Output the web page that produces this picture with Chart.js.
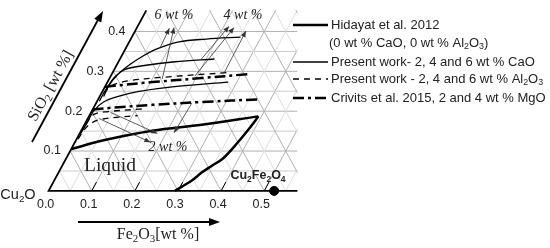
<!DOCTYPE html>
<html>
<head>
<meta charset="utf-8">
<script src="https://cdn.jsdelivr.net/npm/chart.js@4.4.1/dist/chart.umd.min.js"></script>
<style>
html, body { margin: 0; padding: 0; background: #fff; }
#wrap { width: 550px; height: 248px; }
</style>
</head>
<body>
<div id="wrap"><canvas id="myChart"></canvas></div>
<script>
// Fe2O3 / SiO2 mass fractions
var hidayatUpperFe = [0.000, 0.064, 0.165, 0.272, 0.393];
var hidayatUpperSi = [0.105, 0.127, 0.151, 0.166, 0.187];
var hidayatLowerFe = [0.393, 0.388, 0.378, 0.364, 0.346, 0.332, 0.319, 0.293];
var hidayatLowerSi = [0.187, 0.161, 0.122, 0.082, 0.062, 0.046, 0.026, 0.000];

var cao6Fe = [0.009, 0.008, 0.015, 0.030, 0.049, 0.074, 0.115, 0.175, 0.252];
var cao6Si = [0.237, 0.266, 0.293, 0.317, 0.338, 0.357, 0.374, 0.381, 0.386];
var cao4Fe = [0.005, 0.006, 0.011, 0.025, 0.061, 0.131, 0.219];
var cao4Si = [0.225, 0.261, 0.288, 0.305, 0.314, 0.324, 0.331];
var cao2Fe = [0.002, 0.004, 0.004, 0.016, 0.043, 0.082, 0.156, 0.280];
var cao2Si = [0.142, 0.173, 0.201, 0.223, 0.237, 0.249, 0.261, 0.273];

var al6Fe = [0.005, 0.014, 0.046, 0.121, 0.270];
var al6Si = [0.245, 0.264, 0.276, 0.285, 0.297];
var al4Fe = [0.002, 0.009, 0.039, 0.094, 0.120];
var al4Si = [0.168, 0.192, 0.199, 0.204, 0.206];
var al2Fe = [0.003, 0.009, 0.027, 0.069, 0.112];
var al2Si = [0.130, 0.163, 0.178, 0.185, 0.189];

var mgo4Fe = [0.000, 0.040, 0.104, 0.213, 0.315];
var mgo4Si = [0.261, 0.266, 0.273, 0.283, 0.293];
var mgo2Fe = [0.000, 0.046, 0.133, 0.243, 0.376];
var mgo2Si = [0.204, 0.209, 0.216, 0.223, 0.230];

var spinelFe = [0.523];
var spinelSi = [0.000];

var feTicks = [0.0, 0.1, 0.2, 0.3, 0.4, 0.5];
var siTicks = [0.1, 0.2, 0.3, 0.4];

// label arrows: [Fe from, Si from, Fe to, Si to]
var arrows6 = [[0.079, 0.360, 0.076, 0.408], [0.123, 0.281, 0.086, 0.410]];
var arrows4 = [[0.189, 0.331, 0.212, 0.413], [0.195, 0.288, 0.225, 0.410], [0.259, 0.295, 0.257, 0.401]];
var arrows2 = [[0.025, 0.182, 0.175, 0.122], [0.045, 0.197, 0.180, 0.144], [0.222, 0.221, 0.218, 0.146]];

var gridTop = 0.453;   // SiO2 where the grid stops
var gridRight = 0.577; // cartesian x where the grid stops

// ternary -> cartesian (x = Fe2O3 + SiO2/2, y = SiO2)
function pts(fe, si) {
    var out = [];
    for (let i = 0; i < fe.length; i++) out.push({ x: fe[i] + si[i] / 2, y: si[i] });
    return out;
}

function curve(fe, si, width, dash) {
    return {
        data: pts(fe, si),
        showLine: true,
        borderColor: '#000',
        backgroundColor: '#000',
        borderWidth: width,
        borderDash: dash,
        pointRadius: 0,
        tension: 0.35,
        fill: false
    };
}

function xy(chart, X, Y) {
    return { x: chart.scales.x.getPixelForValue(X), y: chart.scales.y.getPixelForValue(Y) };
}
function tp(chart, f, s) {
    return xy(chart, f + s / 2, s);
}

// text with "_x" subscripts
function richText(c, text, x, y, size, family, weight, style, align) {
    var parts = [];
    for (let i = 0; i < text.length; i++) {
        if (text[i] == '_') { parts.push([text[i + 1], true]); i++; }
        else {
            if (parts.length && !parts[parts.length - 1][1]) parts[parts.length - 1][0] += text[i];
            else parts.push([text[i], false]);
        }
    }
    var big = style + ' ' + weight + ' ' + size + 'px ' + family;
    var small = style + ' ' + weight + ' ' + (size * 0.68) + 'px ' + family;
    var w = 0;
    parts.forEach(function (p) { c.font = p[1] ? small : big; w += c.measureText(p[0]).width; });
    var cx = align == 'center' ? x - w / 2 : (align == 'right' ? x - w : x);
    c.textAlign = 'left';
    c.textBaseline = 'middle';
    parts.forEach(function (p) {
        c.font = p[1] ? small : big;
        c.fillText(p[0], cx, p[1] ? y + size * 0.28 : y);
        cx += c.measureText(p[0]).width;
    });
}

function arrowHead(c, x1, y1, x2, y2, len, half) {
    var a = Math.atan2(y2 - y1, x2 - x1);
    c.beginPath();
    c.moveTo(x2, y2);
    c.lineTo(x2 - len * Math.cos(a) + half * Math.sin(a), y2 - len * Math.sin(a) - half * Math.cos(a));
    c.lineTo(x2 - len * Math.cos(a) - half * Math.sin(a), y2 - len * Math.sin(a) + half * Math.cos(a));
    c.closePath();
    c.fill();
}

var ternaryPlugin = {
    id: 'ternary',
    beforeDatasetsDraw: function (chart) {
        var c = chart.ctx;
        c.save();
        // grid, clipped to the section
        var p0 = xy(chart, 0, 0), p1 = xy(chart, gridRight, 0), p2 = xy(chart, gridRight, gridTop), p3 = xy(chart, gridTop / 2, gridTop);
        c.beginPath();
        c.moveTo(p0.x, p0.y); c.lineTo(p1.x, p1.y); c.lineTo(p2.x, p2.y); c.lineTo(p3.x, p3.y);
        c.closePath();
        c.save();
        c.clip();
        c.lineWidth = 1;
        for (let k = 1; k <= 20; k++) {
            var v = k * 0.05;
            var major = (k % 2 == 0);
            // SiO2 = const
            if (k <= 8) {
                var a = tp(chart, 0, v), b = xy(chart, gridRight, v);
                c.strokeStyle = major ? '#b0b0b0' : '#cbcbcb';
                c.beginPath(); c.moveTo(a.x, a.y); c.lineTo(b.x, b.y); c.stroke();
            }
            c.strokeStyle = major ? '#b0b0b0' : '#dddddd';
            // Fe2O3 = const
            var a1 = tp(chart, v, 0), b1 = tp(chart, v, 1);
            c.beginPath(); c.moveTo(a1.x, a1.y); c.lineTo(b1.x, b1.y); c.stroke();
            // Cu2O = const
            var a2 = tp(chart, v, 0), b2 = tp(chart, v - 1, 1);
            c.beginPath(); c.moveTo(a2.x, a2.y); c.lineTo(b2.x, b2.y); c.stroke();
        }
        c.restore();

        // axes
        c.strokeStyle = '#000';
        c.lineWidth = 1.8;
        var o = tp(chart, 0, 0), e = xy(chart, gridRight, 0), t = tp(chart, 0, gridTop);
        c.beginPath(); c.moveTo(e.x, e.y); c.lineTo(o.x, o.y); c.lineTo(t.x, t.y); c.stroke();
        c.lineWidth = 1;
        feTicks.forEach(function (f) {
            if (f == 0) return;
            var q1 = tp(chart, f, 0), q2 = tp(chart, f, 0.022);
            c.beginPath(); c.moveTo(q1.x, q1.y); c.lineTo(q2.x, q2.y); c.stroke();
        });
        c.restore();
    },
    afterDatasetsDraw: function (chart) {
        var c = chart.ctx;
        c.save();
        c.fillStyle = '#222';
        var sans = '"Liberation Sans", Arial, sans-serif';
        var serif = '"Liberation Serif", "Times New Roman", serif';

        // tick labels
        feTicks.forEach(function (f) {
            var q = tp(chart, f, 0);
            c.font = '12.5px ' + sans;
            c.textAlign = 'center'; c.textBaseline = 'middle';
            c.fillText(f.toFixed(1), q.x - 3, q.y + 14);
        });
        siTicks.forEach(function (s) {
            var q = tp(chart, 0, s);
            c.font = '12.5px ' + sans;
            c.textAlign = 'center'; c.textBaseline = 'middle';
            c.fillText(s.toFixed(1), q.x - 18, q.y);
        });
        richText(c, 'Cu_2O', 18, 195, 14.5, sans, 'normal', 'normal', 'center');

        // axis titles and arrows
        richText(c, 'Fe_2O_3[wt %]', 158, 235, 16, serif, 'normal', 'normal', 'center');
        c.strokeStyle = '#000'; c.fillStyle = '#000'; c.lineWidth = 1.8;
        c.beginPath(); c.moveTo(78, 222); c.lineTo(212, 222); c.stroke();
        arrowHead(c, 78, 222, 220, 222, 11, 4);
        c.beginPath(); c.moveTo(32, 142); c.lineTo(99, 18); c.stroke();
        arrowHead(c, 32, 142, 103, 11, 11, 4);
        c.fillStyle = '#222';
        c.save();
        c.translate(51, 86);
        c.rotate(-61 * Math.PI / 180);
        richText(c, 'SiO_2 [wt %]', 0, 0, 16, serif, 'normal', 'normal', 'center');
        c.restore();

        // annotations
        richText(c, 'Liquid', 110, 166, 19.5, serif, 'normal', 'normal', 'center');
        richText(c, '6 wt %', 174, 15, 14, serif, 'normal', 'italic', 'center');
        richText(c, '4 wt %', 243, 15, 14, serif, 'normal', 'italic', 'center');
        richText(c, '2 wt %', 168, 147, 14, serif, 'normal', 'italic', 'center');
        richText(c, 'Cu_2Fe_2O_4', 258, 176, 12.5, sans, 'bold', 'normal', 'center');

        c.strokeStyle = '#333'; c.fillStyle = '#333'; c.lineWidth = 0.8;
        [arrows6, arrows4, arrows2].forEach(function (list) {
            list.forEach(function (a) {
                var from = tp(chart, a[0], a[1]), to = tp(chart, a[2], a[3]);
                c.beginPath(); c.moveTo(from.x, from.y); c.lineTo(to.x, to.y); c.stroke();
                arrowHead(c, from.x, from.y, to.x, to.y, 6, 2.5);
            });
        });

        // legend
        c.strokeStyle = '#000'; c.fillStyle = '#222';
        var rows = [
            { y: 25, w: 2.5, dash: [], text: 'Hidayat et al. 2012' },
            { y: 43, text: '(0 wt % CaO, 0 wt % Al_2O_3)' },
            { y: 62, w: 1.3, dash: [], text: 'Present work- 2, 4 and 6 wt % CaO' },
            { y: 79, w: 1.3, dash: [6, 5], text: 'Present work - 2, 4 and 6 wt % Al_2O_3' },
            { y: 98, w: 2.5, dash: [11, 4, 3, 4], text: 'Crivits et al. 2015, 2 and 4 wt % MgO' }
        ];
        rows.forEach(function (r) {
            if (r.w) {
                c.lineWidth = r.w;
                c.setLineDash(r.dash);
                c.beginPath(); c.moveTo(293, r.y); c.lineTo(328, r.y); c.stroke();
                c.setLineDash([]);
                richText(c, r.text, 331, r.y, 13, sans, 'normal', 'normal', 'left');
            } else {
                richText(c, r.text, 329, r.y, 13, sans, 'normal', 'normal', 'left');
            }
        });
        c.restore();
    }
};

var chart = new Chart(document.getElementById("myChart"), {
    type: 'scatter',
    data: {
        datasets: [
            curve(hidayatUpperFe, hidayatUpperSi, 2.5, []),
            curve(hidayatLowerFe, hidayatLowerSi, 2.5, []),
            curve(cao6Fe, cao6Si, 1.3, []),
            curve(cao4Fe, cao4Si, 1.3, []),
            curve(cao2Fe, cao2Si, 1.3, []),
            curve(al6Fe, al6Si, 1.3, [6, 5]),
            curve(al4Fe, al4Si, 1.3, [6, 5]),
            curve(al2Fe, al2Si, 1.3, [6, 5]),
            curve(mgo4Fe, mgo4Si, 2.5, [11, 4, 3, 4]),
            curve(mgo2Fe, mgo2Si, 2.5, [11, 4, 3, 4]),
            {
                data: pts(spinelFe, spinelSi),
                pointRadius: 4.5,
                pointBackgroundColor: '#000',
                pointBorderColor: '#000',
                clip: false
            }
        ]
    },
    options: {
        responsive: true,
        maintainAspectRatio: false,
        animation: false,
        layout: { padding: 0 },
        plugins: { legend: { display: false }, tooltip: { enabled: false } },
        scales: {
            x: { display: false, min: -0.1, max: 1.15 },
            y: { display: false, min: -0.1295, max: 0.4652 }
        }
    },
    plugins: [ternaryPlugin]
});
</script>
</body>
</html>
